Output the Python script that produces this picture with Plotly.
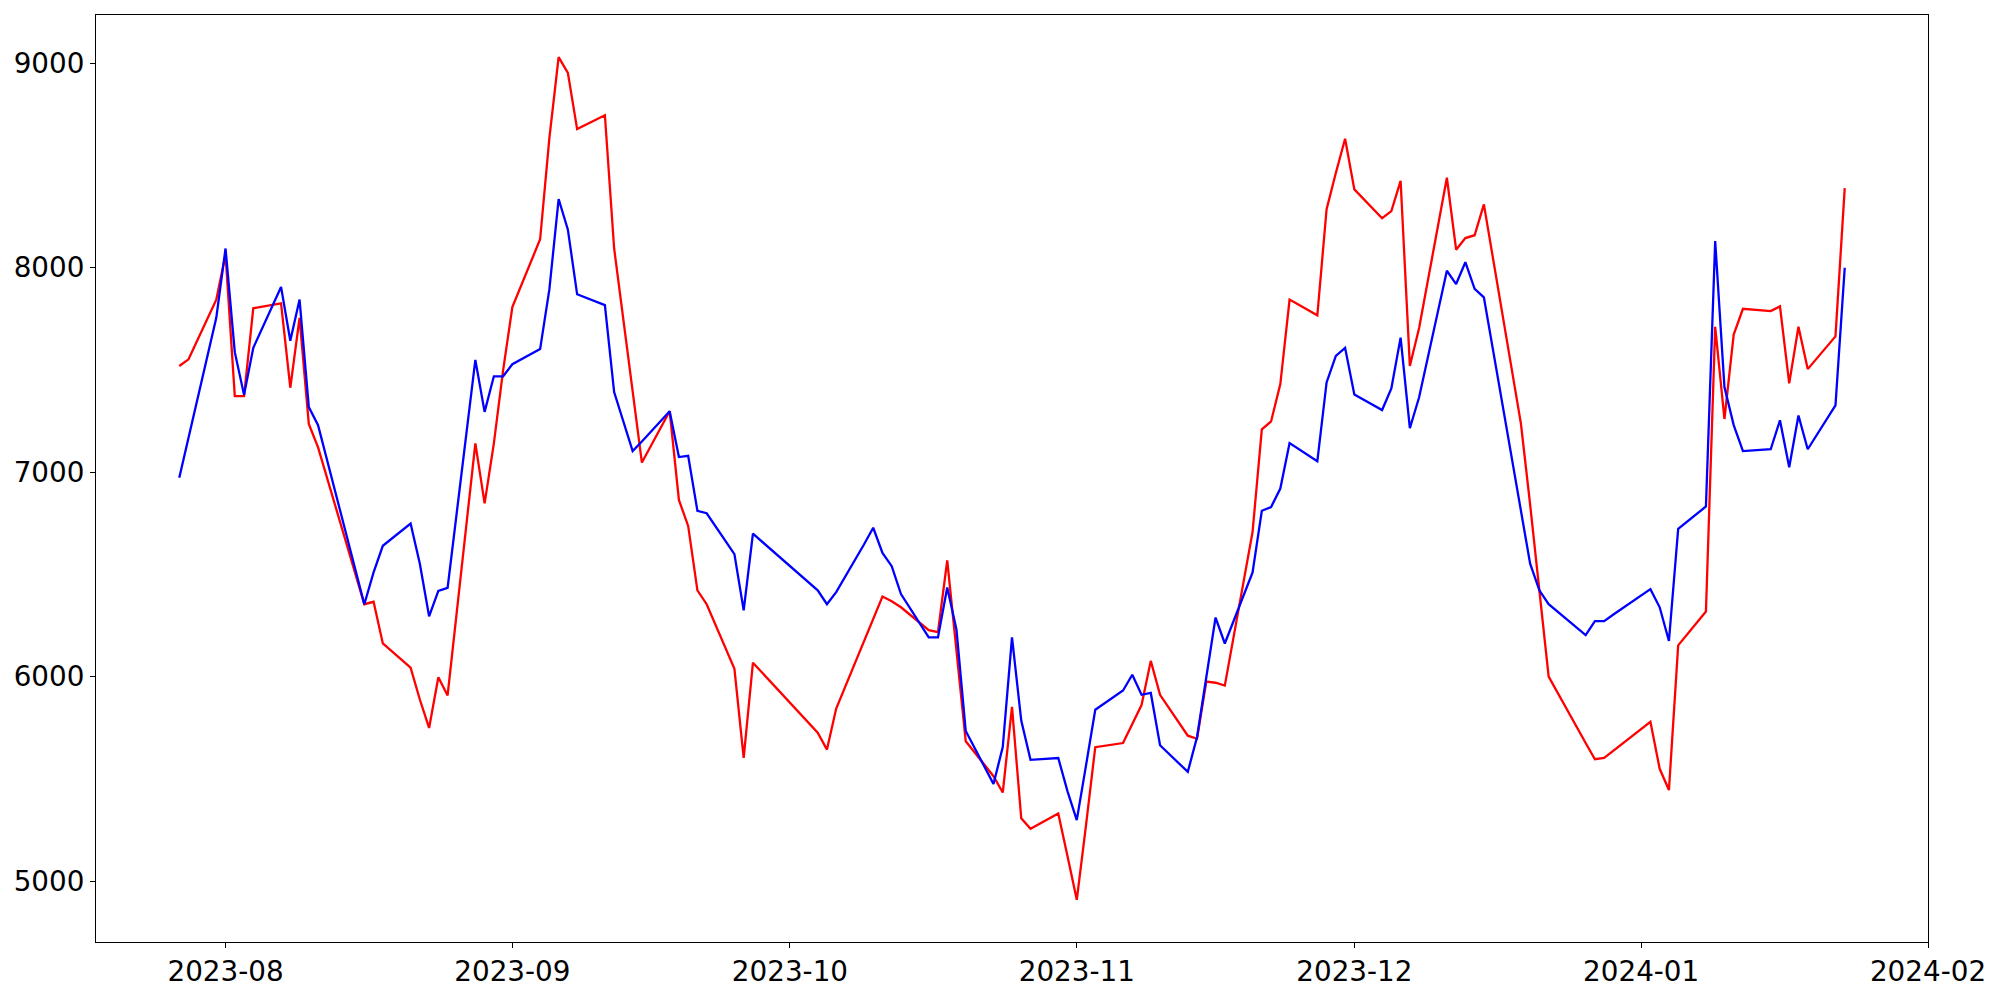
import plotly.graph_objects as go
import pandas as pd

dates = [
    "2023-07-27", "2023-07-28", "2023-07-31", "2023-08-01", "2023-08-02", "2023-08-03", "2023-08-04",
    "2023-08-07", "2023-08-08", "2023-08-09", "2023-08-10", "2023-08-11", "2023-08-14", "2023-08-15",
    "2023-08-16", "2023-08-17", "2023-08-18", "2023-08-21", "2023-08-22", "2023-08-23", "2023-08-24",
    "2023-08-25", "2023-08-28", "2023-08-29", "2023-08-30", "2023-08-31", "2023-09-01", "2023-09-04",
    "2023-09-05", "2023-09-06", "2023-09-07", "2023-09-08", "2023-09-11", "2023-09-12", "2023-09-13",
    "2023-09-14", "2023-09-15", "2023-09-18", "2023-09-19", "2023-09-20", "2023-09-21", "2023-09-22",
    "2023-09-25", "2023-09-26", "2023-09-27", "2023-10-04", "2023-10-05", "2023-10-06", "2023-10-09",
    "2023-10-10", "2023-10-11", "2023-10-12", "2023-10-13", "2023-10-16", "2023-10-17", "2023-10-18",
    "2023-10-19", "2023-10-20", "2023-10-23", "2023-10-24", "2023-10-25", "2023-10-26", "2023-10-27",
    "2023-10-30", "2023-10-31", "2023-11-01", "2023-11-02", "2023-11-03", "2023-11-06", "2023-11-07",
    "2023-11-08", "2023-11-09", "2023-11-10", "2023-11-13", "2023-11-14", "2023-11-15", "2023-11-16",
    "2023-11-17", "2023-11-20", "2023-11-21", "2023-11-22", "2023-11-23", "2023-11-24", "2023-11-27",
    "2023-11-28", "2023-11-29", "2023-11-30", "2023-12-01", "2023-12-04", "2023-12-05", "2023-12-06",
    "2023-12-07", "2023-12-08", "2023-12-11", "2023-12-12", "2023-12-13", "2023-12-14", "2023-12-15",
    "2023-12-18", "2023-12-19", "2023-12-20", "2023-12-21", "2023-12-22", "2023-12-26", "2023-12-27",
    "2023-12-28", "2023-12-29", "2024-01-02", "2024-01-03", "2024-01-04", "2024-01-05", "2024-01-08",
    "2024-01-09", "2024-01-10", "2024-01-11", "2024-01-12", "2024-01-15", "2024-01-16", "2024-01-17",
    "2024-01-18", "2024-01-19", "2024-01-22", "2024-01-23",
]

red_values = [
    7519, 7552, 7844, 8065, 7372, 7372, 7802,
    7826, 7413, 7755, 7236, 7121, 6661, 6507,
    6354, 6366, 6162, 6044, 5888, 5749, 5997,
    5908, 7141, 6847, 7141, 7498, 7808, 8139,
    8634, 9030, 8953, 8678, 8746, 8094, 7740,
    7386, 7047, 7298, 6864, 6737, 6422, 6354,
    6038, 5602, 6068, 5726, 5643, 5844, 6168,
    6280, 6392, 6369, 6339, 6227, 6218, 6569,
    6133, 5684, 5513, 5433, 5852, 5307, 5256,
    5330, 5121, 4908, 5274, 5655, 5675, 5770,
    5861, 6077, 5911, 5711, 5696, 5976, 5970,
    5956, 6708, 7209, 7248, 7431, 7844, 7767,
    8286, 8463, 8631, 8383, 8242, 8277, 8425,
    7519, 7705, 8440, 8088, 8145, 8159, 8310,
    7510, 7239, 6841, 6422, 6000, 5675, 5596,
    5602, 5637, 5779, 5549, 5445, 6153, 6318,
    7711, 7260, 7673, 7799, 7788, 7811, 7434,
    7711, 7504, 7664, 8389,
]

blue_values = [
    6973, 7168, 7755, 8094, 7587, 7378, 7608,
    7906, 7643, 7844, 7318, 7230, 6704, 6529,
    6354, 6510, 6640, 6749, 6552, 6295, 6419,
    6434, 7549, 7295, 7469, 7469, 7528, 7602,
    7894, 8336, 8186, 7870, 7817, 7392, 7248,
    7103, 7150, 7298, 7074, 7080, 6811, 6799,
    6599, 6324, 6699, 6422, 6354, 6413, 6646,
    6728, 6605, 6540, 6404, 6192, 6192, 6436,
    6230, 5734, 5475, 5655, 6192, 5785, 5593,
    5602, 5439, 5298, 5566, 5838, 5932, 6009,
    5911, 5920, 5664, 5534, 5705, 5997, 6289,
    6162, 6510, 6811, 6829, 6920, 7142, 7053,
    7439, 7569, 7608, 7380, 7304, 7410, 7658,
    7215, 7366, 7985, 7920, 8027, 7897, 7855,
    7077, 6814, 6552, 6422, 6354, 6203, 6271,
    6271, 6304, 6428, 6339, 6174, 6723, 6832,
    8130, 7416, 7230, 7103, 7112, 7254, 7024,
    7277, 7112, 7327, 8000,
]

x_tick_dates = ["2023-08-01", "2023-09-01", "2023-10-01", "2023-11-01",
                "2023-12-01", "2024-01-01", "2024-02-01"]
x_tick_labels = ["2023-08", "2023-09", "2023-10", "2023-11", "2023-12", "2024-01", "2024-02"]
y_tick_values = [5000, 6000, 7000, 8000, 9000]

x = pd.to_datetime(dates)

fig = go.Figure()
fig.add_trace(go.Scatter(x=x, y=red_values, mode="lines",
                         line=dict(color="#ff0000", width=2.3), showlegend=False))
fig.add_trace(go.Scatter(x=x, y=blue_values, mode="lines",
                         line=dict(color="#0000ff", width=2.3), showlegend=False))

# matplotlib-like 5% margins
xmin, xmax = x.min(), x.max()
xpad = (xmax - xmin) * 0.05
allv = red_values + blue_values
ymin, ymax = min(allv), max(allv)
ypad = (ymax - ymin) * 0.05

font = dict(family="DejaVu Sans", size=27.8, color="black")

fig.update_layout(
    width=2000, height=1000,
    margin=dict(l=96, r=72, t=15, b=54, pad=0),
    plot_bgcolor="white", paper_bgcolor="white",
    font=font,
)
fig.update_xaxes(
    range=[xmin - xpad, xmax + xpad],
    tickvals=pd.to_datetime(x_tick_dates), ticktext=x_tick_labels,
    showgrid=False, zeroline=False,
    showline=True, mirror=True, linecolor="black", linewidth=1.1,
    ticks="outside", ticklen=5, tickwidth=1.1, tickcolor="black",
    tickfont=font,
)
fig.update_yaxes(
    range=[ymin - ypad, ymax + ypad],
    tickvals=y_tick_values, ticktext=[str(v) for v in y_tick_values],
    showgrid=False, zeroline=False,
    showline=True, mirror=True, linecolor="black", linewidth=1.1,
    ticks="outside", ticklen=5, tickwidth=1.1, tickcolor="black",
    tickfont=font,
)

fig.write_html("out.html", config={"displayModeBar": False},
               post_script="document.body.style.margin='0';document.body.style.overflow='hidden';")
